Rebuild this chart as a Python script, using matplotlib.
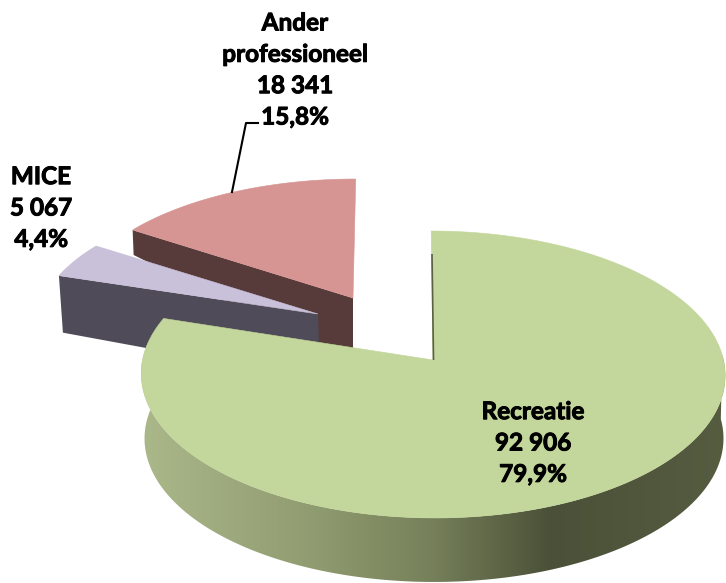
#!/usr/bin/env python3
"""Exploded 3D pie chart, drawn by projecting the slices by hand."""

import numpy as np
import matplotlib
matplotlib.use('Agg')
import matplotlib.pyplot as plt
import matplotlib.patheffects as pe
from matplotlib.colors import LinearSegmentedColormap
from matplotlib.patches import Polygon

# Data
categories = ['Recreatie', 'MICE', 'Ander\nprofessioneel']
values = [92906, 5067, 18341]
percent_labels = ['79,9%', '4,4%', '15,8%']

W, H = 726, 583
KEEP = 0.101  # perspective strength

fig = plt.figure(figsize=(W / 100, H / 100), dpi=100)
ax = fig.add_axes([0, 0, 1, 1])

# Slice angles, clockwise from 12 o'clock
total = sum(values)
edges = np.concatenate([[0], np.cumsum(values) / total * 360])


def project(theta, x0, y0, a, b, skew=0.0):
    """Project a point on the unit circle onto the tilted pie plane."""
    t = np.radians(theta)
    w = 1 + KEEP * np.cos(t)
    return np.column_stack([x0 + (a * np.sin(t) + skew * np.cos(t)) / w,
                            y0 - b * np.cos(t) / w])


def top_face(start, end, pivot, a, b, color, skew=0.0):
    arc = project(np.linspace(start, end, 200), pivot[0], pivot[1], a, b, skew)
    pts = np.vstack([[pivot], arc])
    ax.add_patch(Polygon(pts, closed=True, facecolor=color, edgecolor=color,
                         linewidth=0.4, zorder=3))
    return arc


def label_text(i):
    number = f"{values[i]:,}".replace(',', ' ')
    return f"{categories[i]}\n{number}\n{percent_labels[i]}"


# Ander professioneel: front wall first, then top
a_piv = (353, 298)
a_end = project(edges[2], a_piv[0], a_piv[1], 280, 131, 3)[0]
ax.add_patch(Polygon([a_end, a_piv, (353, 365), (a_end[0] + 1, a_end[1] + 25)],
                     closed=True, facecolor='#573a3a', edgecolor='none', zorder=1))
top_face(edges[2], edges[3], a_piv, 280, 131, '#d69492', 3)

# MICE
m_piv = (318, 314)
m_start = project(edges[1], m_piv[0], m_piv[1], 280, 131)[0]
ax.add_patch(Polygon([m_start, m_piv, (320, 380), (m_start[0] + 4, m_start[1] + 57)],
                     closed=True, facecolor='#4f4b58', edgecolor='none', zorder=2))
top_face(edges[1], edges[2], m_piv, 280, 131, '#c9c0d9')

# Recreatie: rim with a horizontal gradient
r_piv = (433, 360)
ang = np.linspace(88, 276, 300)
rim_top = project(ang, r_piv[0], r_piv[1], 290.5, 142, -2)
rim_bot = project(ang, r_piv[0] + 1, r_piv[1] + 64, 288, 142)
rim = Polygon(np.vstack([rim_top, rim_bot[::-1]]), closed=True,
              facecolor='none', edgecolor='none', zorder=3)
ax.add_patch(rim)
stops = [(0.0, '#abb88a'), (0.27, '#939f73'), (0.50, '#76805a'),
         (0.70, '#4b5138'), (1.0, '#565c40')]
cmap = LinearSegmentedColormap.from_list('rim', stops)
img = ax.imshow(np.linspace(0, 1, 256)[None, :], cmap=cmap, aspect='auto',
                extent=(138, 726, 583, 300), zorder=3)
img.set_clip_path(rim)

top_face(edges[0], edges[1], r_piv, 290.5, 142, '#c3d69b', -2)
# thin inner wall visible along the cut at 12 o'clock
ax.plot([432, 433.5], [254, 360], color='#5a6048', lw=1.2, zorder=5,
        solid_capstyle='butt')

# Leader line for Ander professioneel
ax.plot([232, 246, 258], [192, 123, 123], color='black', lw=1.5, zorder=6)

# Labels
label_pos = [(533, 443), (41, 208), (295, 70)]
for i, (x, y) in enumerate(label_pos):
    t = ax.text(x, y, label_text(i), ha='center', va='center', fontsize=17.5,
                fontweight='bold', family='Lato', color='black',
                linespacing=1.44, zorder=7)
    # the installed weight renders a bit light, thicken it
    t.set_path_effects([pe.withStroke(linewidth=0.7, foreground='black')])

ax.set_xlim(0, W)
ax.set_ylim(H, 0)
ax.axis('off')

fig.savefig('out.png', dpi=100, facecolor='white')
plt.close(fig)
